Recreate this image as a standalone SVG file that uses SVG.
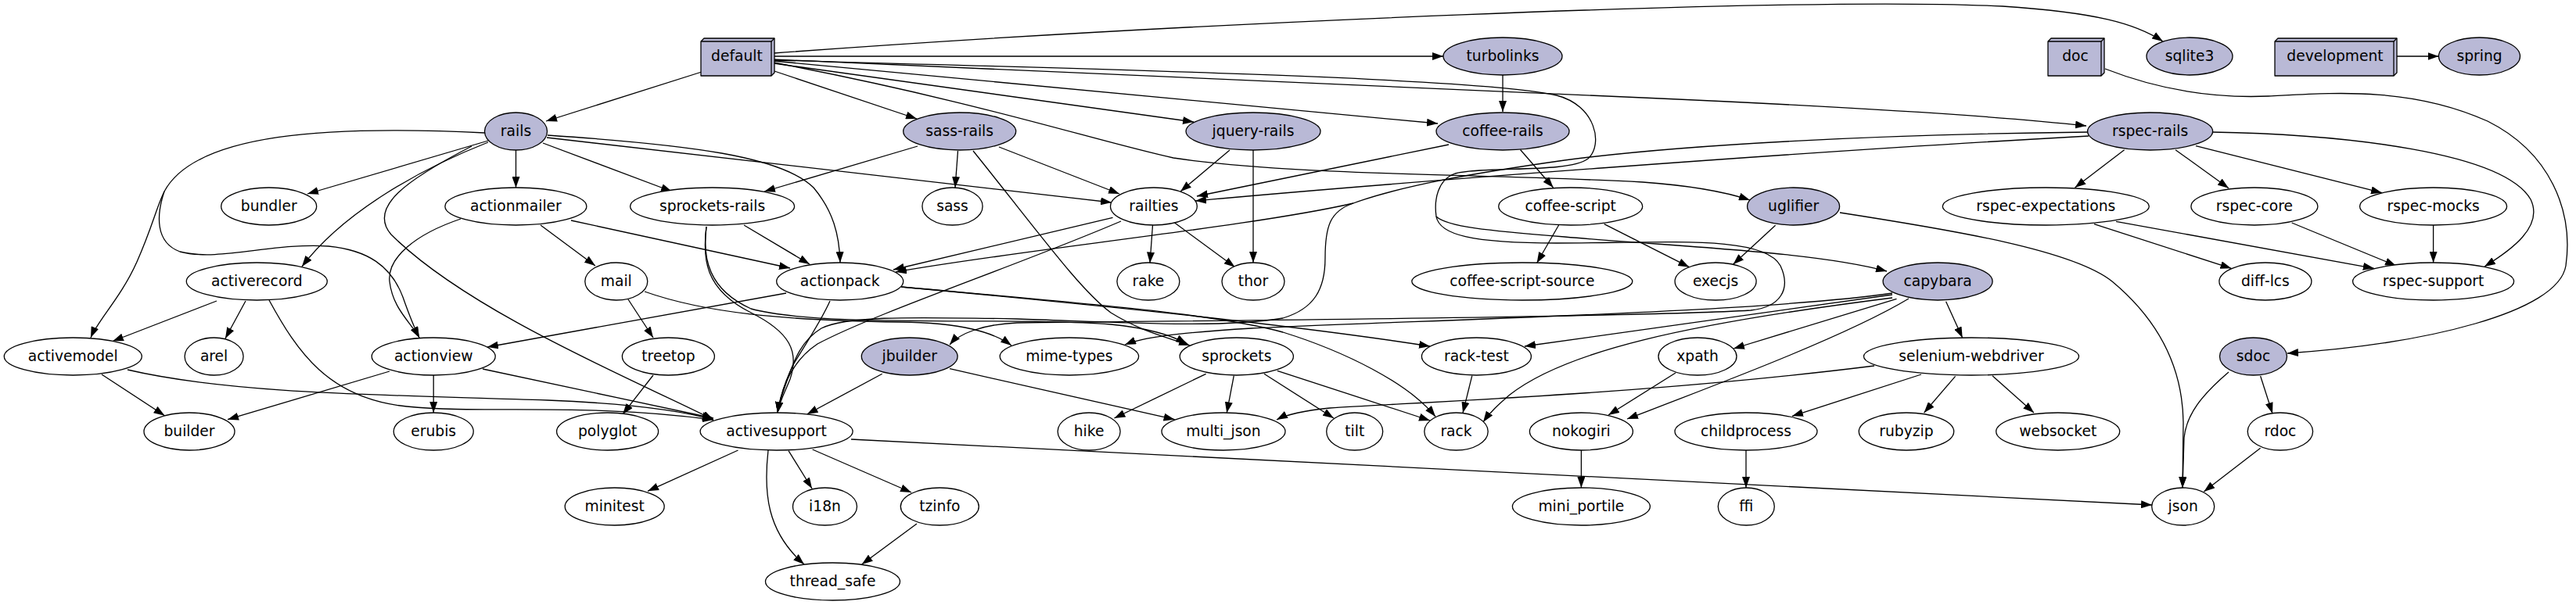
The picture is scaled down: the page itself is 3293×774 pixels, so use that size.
<svg xmlns="http://www.w3.org/2000/svg" width="3293" height="774" viewBox="0 0 3293 774">
<style>
.n ellipse{fill:#fff;stroke:#000;stroke-width:1.3}
.f ellipse{fill:#b9b9d6}
.b polygon{fill:#b9b9d6;stroke:#000;stroke-width:1.3;stroke-linejoin:round}
.b polyline{fill:none;stroke:#000;stroke-width:1.3}
text{font-family:"DejaVu Sans","Liberation Sans",sans-serif;font-size:18.7px;text-anchor:middle;fill:#000}
#edges path{fill:none;stroke:#000;stroke-width:1.3}
#edges path.e{marker-end:url(#a)}
</style>
<defs>
<marker id="a" viewBox="0 0 14 10" markerWidth="14" markerHeight="10" refX="14" refY="5" orient="auto" markerUnits="userSpaceOnUse"><path d="M0,0 L14,5 L0,10 z" fill="#000"/></marker>
</defs>
<rect width="3293" height="774" fill="#fff"/>
<g id="edges">
<path class="e" d="M897 92 L698 155"/>
<path class="e" d="M987 90 L1172 152"/>
<path class="e" d="M989 81 L1526 156"/>
<path class="e" d="M989 78 L1838 158"/>
<path class="e" d="M989 72 L1845 72"/>
<path class="e" d="M989 68 C1500 30 2300 -5 2560 8 C2680 16 2730 30 2765 53"/>
<path class="e" d="M989 76 L2100 125 C2350 136 2550 148 2667 161"/>
<path class="e" d="M989 80 C1250 130 1400 180 1500 202 C1650 225 1900 222 2100 233 C2170 238 2210 247 2237 256"/>
<path class="e" d="M989 77 C1400 88 1900 100 1990 122 C2040 135 2050 185 2030 203 C2005 222 1900 212 1860 222 C1838 230 1833 255 1836 277 C1850 290 1900 295 2000 303 C2150 316 2320 322 2412 347"/>
<path class="e" d="M1836 277 C1840 300 1880 311 1990 311 C2130 311 2255 300 2276 340 C2290 370 2276 393 2238 397 C2100 405 1600 410 1300 413 C1255 415 1226 427 1214 441"/>
<path class="e" d="M624 180 L393 248"/>
<path class="e" d="M659.5 192 L659.5 240"/>
<path class="e" d="M694 183 L859 245"/>
<path class="e" d="M699 176 L1421 259"/>
<path class="e" d="M700 173 C880 185 1000 200 1040 240 C1065 270 1073 300 1074 336"/>
<path class="e" d="M624 182 C540 215 440 270 386 341"/>
<path class="e" d="M620 170 C420 160 250 170 210 245 C200 265 195 290 175 335 C155 380 125 410 116 432"/>
<path class="e" d="M210 245 C200 275 198 310 230 322 C280 335 350 310 420 315 C470 320 500 340 515 380 C522 400 530 420 536 432"/>
<path class="e" d="M603 187 C520 230 470 265 500 300 C600 400 820 490 912 537"/>
<path class="e" d="M691 288 L761 340"/>
<path class="e" d="M730 282 L1010 343"/>
<path class="e" d="M589 280 C530 300 495 330 498 360 C502 395 525 412 536 432"/>
<path class="e" d="M951 288 L1035 338"/>
<path class="e" d="M903 290 C898 330 900 370 960 400 C1010 425 1022 450 1010 485 C1002 505 996 515 994 528"/>
<path class="e" d="M903 290 C898 330 905 370 960 395 C1050 420 1300 405 1420 415 C1470 420 1500 430 1517 440"/>
<path class="e" d="M1173 187 L977 245"/>
<path class="e" d="M1224.5 193 L1221 240"/>
<path class="e" d="M1277 188 L1431 248"/>
<path class="e" d="M1244 193 C1330 300 1380 370 1420 400 C1460 425 1495 432 1521 442"/>
<path class="e" d="M1572 192 L1509 245"/>
<path class="e" d="M1602 191 L1602 336"/>
<path class="e" d="M1852 185 L1530 251"/>
<path class="e" d="M1943.5 191.5 L1985.6 240"/>
<path class="e" d="M1921 96 L1921 143"/>
<path class="e" d="M1992.6 288 L1964.6 336.5"/>
<path class="e" d="M2050.7 286.7 L2159.4 341.7"/>
<path class="e" d="M2269.6 288.3 L2215.5 338.3"/>
<path class="e" d="M2352 272 C2500 295 2650 320 2700 360 C2760 410 2790 470 2791 540 L2790 624"/>
<path class="e" d="M2715.6 191.7 L2652.5 240"/>
<path class="e" d="M2781 191.7 L2849 240.7"/>
<path class="e" d="M2807 186.7 L3045 246.7"/>
<path class="e" d="M2828 169 C3000 172 3200 195 3235 255 C3252 290 3210 320 3176 341"/>
<path class="e" d="M2670 174 L2600 178 C2300 195 1800 232 1528 257"/>
<path class="e" d="M2669 169 C2400 172 2150 185 2000 205 C1880 222 1790 238 1730 260 C1600 290 1300 320 1145 348"/>
<path class="e" d="M1730 260 C1700 270 1694 290 1694 330 C1694 370 1680 395 1640 407 C1560 420 1450 413 1300 408 C1150 405 1080 405 1050 420 C1025 435 1015 460 1005 490 C1000 505 996 515 994 528"/>
<path class="e" d="M1422.5 278.3 L1142 345"/>
<path class="e" d="M1433 283 C1300 340 1120 400 1045 440 C1015 460 1000 490 994 528"/>
<path class="e" d="M1473.5 288 L1470 336.5"/>
<path class="e" d="M1501.6 285 L1578.7 341.7"/>
<path class="e" d="M2677 286.7 L2852.4 343.3"/>
<path class="e" d="M2705 283.3 L3034.8 343.3"/>
<path class="e" d="M2929.6 285 L3063 340"/>
<path class="e" d="M3110.6 288 L3110.6 336"/>
<path class="e" d="M2691 88 C2760 115 2830 126 2900 123 C2980 119 3080 110 3180 155 C3260 195 3290 270 3280 340 C3270 400 3100 440 2924 452"/>
<path class="e" d="M3064 72 L3117.5 72"/>
<path class="e" d="M2487.6 385.7 L2508.7 432.3"/>
<path class="e" d="M2424.5 382.3 L2216 446"/>
<path class="e" d="M2440 382 C2360 430 2200 490 2080 536"/>
<path class="e" d="M2419 381 C2150 415 2000 450 1930 505 C1915 518 1905 527 1896 540"/>
<path class="e" d="M2419 377 L1949 443"/>
<path class="e" d="M2419 375 C2250 400 1800 410 1600 420 C1500 426 1460 432 1438 441"/>
<path class="e" d="M1005 375 L623 444"/>
<path class="e" d="M1061 385 C1050 410 1030 440 1015 465 C1002 490 997 510 994 528"/>
<path class="e" d="M1152 367 C1400 390 1650 415 1828 443"/>
<path class="e" d="M1152 367 C1350 385 1550 400 1640 425 C1720 450 1800 490 1835 533"/>
<path class="e" d="M803 383 L835 432"/>
<path class="e" d="M824 373 C900 400 1000 410 1150 412 C1230 413 1270 425 1293 442"/>
<path class="e" d="M277 385 L144 436.5"/>
<path class="e" d="M314 385 L288 433"/>
<path class="e" d="M344 384 C380 450 420 510 520 520 C620 530 750 515 912 537"/>
<path class="e" d="M130 479 L210.5 531.7"/>
<path class="e" d="M163 473 C300 505 500 505 700 512 C800 516 870 525 912 537"/>
<path class="e" d="M498 475 L291 536.7"/>
<path class="e" d="M554.2 480 L554.2 528"/>
<path class="e" d="M617 472 L912 535"/>
<path class="e" d="M835 480 L796 530"/>
<path class="e" d="M943.5 576 L828 628.3"/>
<path class="e" d="M1008 576.7 L1038 625"/>
<path class="e" d="M1038.6 575 L1165 630"/>
<path class="e" d="M982 576 C976 630 980 680 1028 722"/>
<path class="e" d="M1088 562 L2751 646"/>
<path class="e" d="M1172 670 L1101.7 722"/>
<path class="e" d="M1127.7 478.3 L1031.6 530"/>
<path class="e" d="M1214 471.7 L1501.6 536.7"/>
<path class="e" d="M1541.6 478.3 L1424.4 535"/>
<path class="e" d="M1577.3 480.7 L1568.2 528.3"/>
<path class="e" d="M1616 478.3 L1705 535"/>
<path class="e" d="M1632.8 474.3 L1828 538"/>
<path class="e" d="M1881.8 480.7 L1870 528.3"/>
<path class="e" d="M2396 468 C2100 505 1800 515 1700 522 C1670 525 1645 530 1632 537"/>
<path class="e" d="M2456 479 L2291 532.3"/>
<path class="e" d="M2499.6 481.3 L2459.6 528"/>
<path class="e" d="M2547 480.7 L2600 528"/>
<path class="e" d="M2142 477 L2056 531"/>
<path class="e" d="M2021.4 576 L2021.4 624"/>
<path class="e" d="M2232 576 L2232 624"/>
<path class="e" d="M2849 476 C2815 505 2795 530 2792 560 L2790 624"/>
<path class="e" d="M2889.6 481 L2905 529"/>
<path class="e" d="M2889.6 573.3 L2817.3 629"/>
</g>
<g id="default" class="b"><polygon points="896,53 900,49 990,49 990,93 986,97 896,97"/><polyline points="896,53 986,53 990,49"/><polyline points="986,53 986,97"/><text x="942" y="78">default</text></g>
<g id="doc" class="b"><polygon points="2618,53 2622,49 2690,49 2690,93 2686,97 2618,97"/><polyline points="2618,53 2686,53 2690,49"/><polyline points="2686,53 2686,97"/><text x="2653" y="78">doc</text></g>
<g id="development" class="b"><polygon points="2908,53 2912,49 3064,49 3064,93 3060,97 2908,97"/><polyline points="2908,53 3060,53 3064,49"/><polyline points="3060,53 3060,97"/><text x="2985" y="78">development</text></g>
<g id="turbolinks" class="n f"><ellipse cx="1921" cy="72" rx="76" ry="24"/><text x="1921" y="78">turbolinks</text></g>
<g id="sqlite3" class="n f"><ellipse cx="2799" cy="72" rx="55" ry="24"/><text x="2799" y="78">sqlite3</text></g>
<g id="spring" class="n f"><ellipse cx="3169.5" cy="72" rx="52" ry="24"/><text x="3169.5" y="78">spring</text></g>
<g id="rails" class="n f"><ellipse cx="659.5" cy="168" rx="40" ry="24"/><text x="659.5" y="174">rails</text></g>
<g id="sass-rails" class="n f"><ellipse cx="1226.7" cy="168" rx="72" ry="24"/><text x="1226.7" y="174">sass-rails</text></g>
<g id="jquery-rails" class="n f"><ellipse cx="1602" cy="168" rx="86" ry="24"/><text x="1602" y="174">jquery-rails</text></g>
<g id="coffee-rails" class="n f"><ellipse cx="1921" cy="168" rx="85" ry="24"/><text x="1921" y="174">coffee-rails</text></g>
<g id="rspec-rails" class="n f"><ellipse cx="2748.6" cy="168" rx="80" ry="24"/><text x="2748.6" y="174">rspec-rails</text></g>
<g id="bundler" class="n"><ellipse cx="343.7" cy="264" rx="61" ry="24"/><text x="343.7" y="270">bundler</text></g>
<g id="actionmailer" class="n"><ellipse cx="659.4" cy="264" rx="90.5" ry="24"/><text x="659.4" y="270">actionmailer</text></g>
<g id="sprockets-rails" class="n"><ellipse cx="910.6" cy="264" rx="105" ry="24"/><text x="910.6" y="270">sprockets-rails</text></g>
<g id="sass" class="n"><ellipse cx="1217.5" cy="264" rx="38.6" ry="24"/><text x="1217.5" y="270">sass</text></g>
<g id="railties" class="n"><ellipse cx="1474.9" cy="264" rx="55.4" ry="24"/><text x="1474.9" y="270">railties</text></g>
<g id="coffee-script" class="n"><ellipse cx="2007.7" cy="264" rx="92" ry="24"/><text x="2007.7" y="270">coffee-script</text></g>
<g id="uglifier" class="n f"><ellipse cx="2292.6" cy="264" rx="59" ry="24"/><text x="2292.6" y="270">uglifier</text></g>
<g id="rspec-expectations" class="n"><ellipse cx="2615.3" cy="264" rx="132" ry="24"/><text x="2615.3" y="270">rspec-expectations</text></g>
<g id="rspec-core" class="n"><ellipse cx="2881.9" cy="264" rx="81" ry="24"/><text x="2881.9" y="270">rspec-core</text></g>
<g id="rspec-mocks" class="n"><ellipse cx="3110.6" cy="264" rx="94" ry="24"/><text x="3110.6" y="270">rspec-mocks</text></g>
<g id="activerecord" class="n"><ellipse cx="328.3" cy="360" rx="90" ry="24"/><text x="328.3" y="366">activerecord</text></g>
<g id="mail" class="n"><ellipse cx="787.8" cy="360" rx="40" ry="24"/><text x="787.8" y="366">mail</text></g>
<g id="actionpack" class="n"><ellipse cx="1073.7" cy="360" rx="81" ry="24"/><text x="1073.7" y="366">actionpack</text></g>
<g id="rake" class="n"><ellipse cx="1467.9" cy="360" rx="40" ry="24"/><text x="1467.9" y="366">rake</text></g>
<g id="thor" class="n"><ellipse cx="1602" cy="360" rx="40" ry="24"/><text x="1602" y="366">thor</text></g>
<g id="coffee-script-source" class="n"><ellipse cx="1945.8" cy="360" rx="141" ry="24"/><text x="1945.8" y="366">coffee-script-source</text></g>
<g id="execjs" class="n"><ellipse cx="2193.1" cy="360" rx="52" ry="24"/><text x="2193.1" y="366">execjs</text></g>
<g id="capybara" class="n f"><ellipse cx="2477.1" cy="360" rx="70" ry="24"/><text x="2477.1" y="366">capybara</text></g>
<g id="diff-lcs" class="n"><ellipse cx="2895.9" cy="360" rx="59" ry="24"/><text x="2895.9" y="366">diff-lcs</text></g>
<g id="rspec-support" class="n"><ellipse cx="3110.6" cy="360" rx="103" ry="24"/><text x="3110.6" y="366">rspec-support</text></g>
<g id="activemodel" class="n"><ellipse cx="93.3" cy="456" rx="88" ry="24"/><text x="93.3" y="462">activemodel</text></g>
<g id="arel" class="n"><ellipse cx="273.6" cy="456" rx="37.5" ry="24"/><text x="273.6" y="462">arel</text></g>
<g id="actionview" class="n"><ellipse cx="554.2" cy="456" rx="79" ry="24"/><text x="554.2" y="462">actionview</text></g>
<g id="treetop" class="n"><ellipse cx="854.4" cy="456" rx="59" ry="24"/><text x="854.4" y="462">treetop</text></g>
<g id="jbuilder" class="n f"><ellipse cx="1162.7" cy="456" rx="61.4" ry="24"/><text x="1162.7" y="462">jbuilder</text></g>
<g id="mime-types" class="n"><ellipse cx="1366.9" cy="456" rx="88.7" ry="24"/><text x="1366.9" y="462">mime-types</text></g>
<g id="sprockets" class="n"><ellipse cx="1580.8" cy="456" rx="72.6" ry="24"/><text x="1580.8" y="462">sprockets</text></g>
<g id="rack-test" class="n"><ellipse cx="1887.4" cy="456" rx="70" ry="24"/><text x="1887.4" y="462">rack-test</text></g>
<g id="xpath" class="n"><ellipse cx="2170" cy="456" rx="50" ry="24"/><text x="2170" y="462">xpath</text></g>
<g id="selenium-webdriver" class="n"><ellipse cx="2520" cy="456" rx="137.5" ry="24"/><text x="2520" y="462">selenium-webdriver</text></g>
<g id="sdoc" class="n f"><ellipse cx="2880.5" cy="456" rx="43" ry="24"/><text x="2880.5" y="462">sdoc</text></g>
<g id="builder" class="n"><ellipse cx="242" cy="552" rx="58" ry="24"/><text x="242" y="558">builder</text></g>
<g id="erubis" class="n"><ellipse cx="554.2" cy="552" rx="51" ry="24"/><text x="554.2" y="558">erubis</text></g>
<g id="polyglot" class="n"><ellipse cx="776.6" cy="552" rx="65" ry="24"/><text x="776.6" y="558">polyglot</text></g>
<g id="activesupport" class="n"><ellipse cx="992.6" cy="552" rx="97.5" ry="24"/><text x="992.6" y="558">activesupport</text></g>
<g id="hike" class="n"><ellipse cx="1392.1" cy="552" rx="40" ry="24"/><text x="1392.1" y="558">hike</text></g>
<g id="multi_json" class="n"><ellipse cx="1564" cy="552" rx="79" ry="24"/><text x="1564" y="558">multi_json</text></g>
<g id="tilt" class="n"><ellipse cx="1731.7" cy="552" rx="36" ry="24"/><text x="1731.7" y="558">tilt</text></g>
<g id="rack" class="n"><ellipse cx="1861.5" cy="552" rx="40.7" ry="24"/><text x="1861.5" y="558">rack</text></g>
<g id="nokogiri" class="n"><ellipse cx="2021.4" cy="552" rx="66" ry="24"/><text x="2021.4" y="558">nokogiri</text></g>
<g id="childprocess" class="n"><ellipse cx="2232" cy="552" rx="91" ry="24"/><text x="2232" y="558">childprocess</text></g>
<g id="rubyzip" class="n"><ellipse cx="2437" cy="552" rx="60.7" ry="24"/><text x="2437" y="558">rubyzip</text></g>
<g id="websocket" class="n"><ellipse cx="2630.7" cy="552" rx="79" ry="24"/><text x="2630.7" y="558">websocket</text></g>
<g id="rdoc" class="n"><ellipse cx="2914.9" cy="552" rx="41.7" ry="24"/><text x="2914.9" y="558">rdoc</text></g>
<g id="minitest" class="n"><ellipse cx="785.7" cy="648" rx="63.5" ry="24"/><text x="785.7" y="654">minitest</text></g>
<g id="i18n" class="n"><ellipse cx="1054.5" cy="648" rx="41" ry="24"/><text x="1054.5" y="654">i18n</text></g>
<g id="tzinfo" class="n"><ellipse cx="1201.3" cy="648" rx="50" ry="24"/><text x="1201.3" y="654">tzinfo</text></g>
<g id="mini_portile" class="n"><ellipse cx="2021.4" cy="648" rx="88" ry="24"/><text x="2021.4" y="654">mini_portile</text></g>
<g id="ffi" class="n"><ellipse cx="2232.3" cy="648" rx="36" ry="24"/><text x="2232.3" y="654">ffi</text></g>
<g id="json" class="n"><ellipse cx="2790.7" cy="648" rx="40" ry="24"/><text x="2790.7" y="654">json</text></g>
<g id="thread_safe" class="n"><ellipse cx="1064.5" cy="744" rx="86" ry="24"/><text x="1064.5" y="750">thread_safe</text></g>
</svg>
